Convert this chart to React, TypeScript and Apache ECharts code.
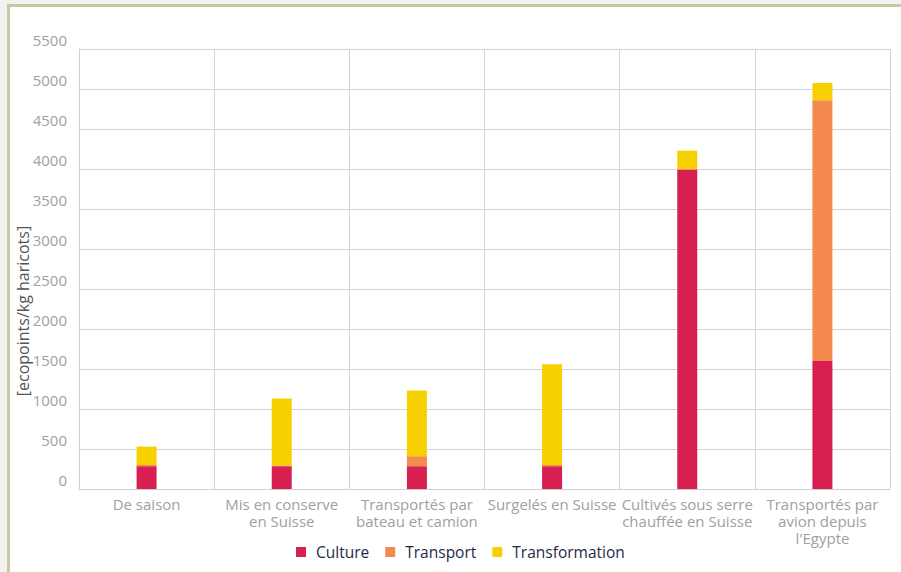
import React, { useEffect, useRef } from "react";
import * as echarts from "echarts";

const categories = [
  "De saison",
  "Mis en conserve\nen Suisse",
  "Transportés par\nbateau et camion",
  "Surgelés en Suisse",
  "Cultivés sous serre\nchauffée en Suisse",
  "Transportés par\navion depuis\nl'Egypte",
];
const culture = [285, 285, 285, 285, 3990, 1600];
const transport = [15, 10, 125, 15, 10, 3260];
const transformation = [230, 835, 820, 1260, 230, 215];
const seriesNames = ["Culture", "Transport", "Transformation"];
const colors = ["#d81f52", "#f58a4e", "#f6d000"];
const yAxisTitle = "[ecopoints/kg haricots]";

const FONT = "'Open Sans', 'Noto Sans', sans-serif";

export default function App() {
  const ref = useRef<HTMLDivElement>(null);
  useEffect(() => {
    if (!ref.current) return;
    const chart = echarts.init(ref.current, undefined, { renderer: "svg" });
    const values = [culture, transport, transformation];
    chart.setOption({
      animation: false,
      textStyle: { fontFamily: FONT },
      color: colors,
      grid: { left: 79, right: 11, top: 49, bottom: 83, containLabel: false },
      legend: {
        data: seriesNames,
        left: 291,
        top: 539,
        itemWidth: 10,
        itemHeight: 10,
        itemGap: 16,
        icon: "rect",
        textStyle: {
          fontSize: 15.5,
          color: "#1e2a48",
          fontFamily: FONT,
          padding: [0, 0, 0, 5],
        },
      },
      xAxis: {
        type: "category",
        data: categories,
        axisLine: { show: true, lineStyle: { color: "#cfcfcf", width: 1 } },
        axisTick: { show: false },
        splitLine: { show: true, lineStyle: { color: "#d4d4d4", width: 1 } },
        axisLabel: {
          color: "#a0a0a0",
          fontSize: 15,
          lineHeight: 17,
          margin: 6,
          interval: 0,
          fontFamily: FONT,
        },
      },
      yAxis: {
        type: "value",
        min: 0,
        max: 5500,
        interval: 500,
        axisLine: { show: true, lineStyle: { color: "#cfcfcf", width: 1 } },
        axisTick: { show: false },
        splitLine: { show: true, lineStyle: { color: "#d4d4d4", width: 1 } },
        axisLabel: {
          color: "#a0a0a0",
          fontSize: 15,
          margin: 12,
          verticalAlign: "bottom",
          padding: [0, 0, 2, 0],
          fontFamily: FONT,
          formatter: (v: number) => String(v),
        },
      },
      graphic: [
        {
          type: "text",
          x: 23,
          y: 311,
          rotation: Math.PI / 2,
          style: {
            text: yAxisTitle,
            fill: "#555",
            fontSize: 16,
            fontFamily: FONT,
            align: "center",
            verticalAlign: "middle",
          },
        },
      ],
      series: seriesNames.map((name, i) => ({
        name,
        type: "bar",
        stack: "total",
        barWidth: 20,
        data: values[i],
        itemStyle: { color: colors[i] },
      })),
    });
    return () => chart.dispose();
  }, []);

  return (
    <div
      style={{
        position: "fixed",
        left: 0,
        top: 0,
        width: 901,
        height: 572,
        background: "#f2f2f0",
        overflow: "hidden",
      }}
    >
      <div
        style={{
          position: "absolute",
          left: 7,
          top: 4,
          width: 1000,
          height: 1000,
          border: "3px solid #c8c8a6",
          background: "#fff",
        }}
      />
      <div
        ref={ref}
        style={{ position: "absolute", left: 0, top: 0, width: 901, height: 572 }}
      />
    </div>
  );
}
